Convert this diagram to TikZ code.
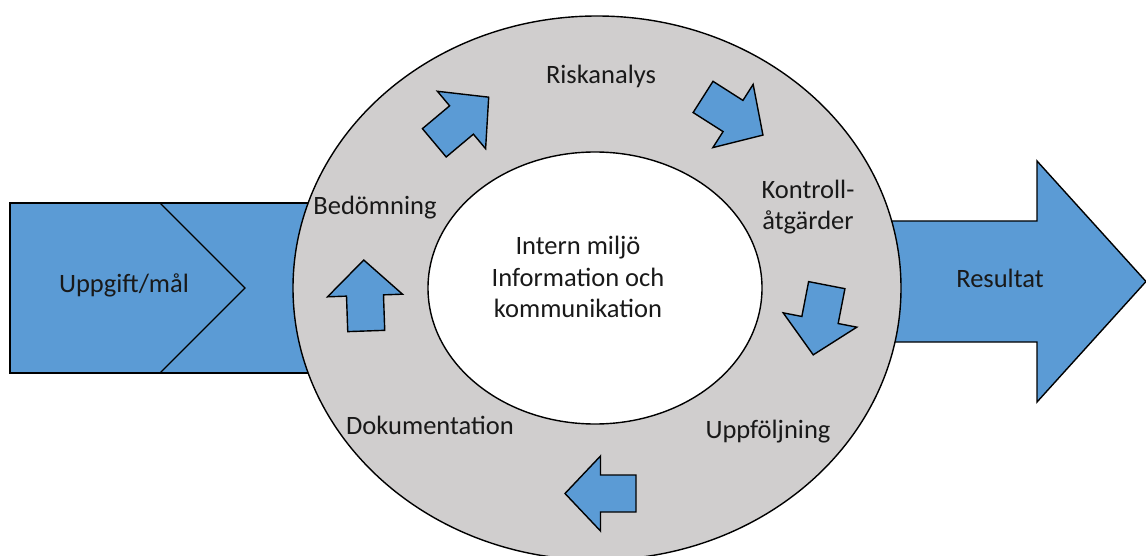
\documentclass[tikz,border=0pt]{standalone}
\usepackage{fontspec}
\setmainfont{Carlito}
\usepackage{tikz}
\usetikzlibrary{shapes.geometric}

\definecolor{boxblue}{RGB}{91,155,213}
\definecolor{ringgray}{RGB}{208,206,206}

\begin{document}
\begin{tikzpicture}[x=1pt,y=-1pt,
    blockfill/.style={fill=boxblue,draw=black,line width=1.4pt,line join=miter},
    ringshape/.style={ellipse,draw=black,line width=1.4pt,inner sep=0pt},
    steptext/.style={font=\fontsize{26.5}{31.5}\selectfont,text=black!90,align=center,inner sep=0pt},
    pics/cyclearrow/.style={code={
      \draw[blockfill] (-35.5,-18.5)--(0,-18.5)--(0,-37.5)--(35.5,0)--(0,37.5)--(0,18.5)--(-35.5,18.5)--cycle;}}]
  \clip (0,0) rectangle (1146,556);
  % in- and outflow
  \draw[blockfill] (10,203) rectangle (340,373);
  \draw[line width=1.4pt] (160,203)--(245,288)--(160,373);
  \draw[blockfill] (860,221)--(1037,221)--(1037,161)--(1146,281.5)--(1037,402)--(1037,342)--(860,342)--cycle;
  \node[steptext] (goal) at (124,285) {Uppgift/mål};
  \node[steptext] (result) at (1000,278) {Resultat};
  % ring
  \node[ringshape,fill=ringgray,minimum width=608pt,minimum height=544pt] (outer) at (597,288) {};
  \node[ringshape,fill=white,minimum width=334pt,minimum height=272pt] (inner) at (595,288) {};
  \node[steptext] (centre) at (578,277) {Intern miljö\\Information och\\kommunikation};
  \node[steptext] (risk) at (601,76) {Riskanalys};
  \node[steptext] (control) at (808,207) {Kontroll-\\åtgärder};
  \node[steptext] (followup) at (768,432) {Uppföljning};
  \node[steptext] (docs) at (430,425) {Dokumentation};
  \node[steptext] (assess) at (375,208) {Bedömning};
  \pic[rotate=40] at (461.5,120) {cyclearrow};
  \pic[rotate=-32.5] at (733,116) {cyclearrow};
  \pic[rotate=-101] at (820,320) {cyclearrow};
  \pic[rotate=180] at (600.5,493.5) {cyclearrow};
  \pic[rotate=92] at (365,295.5) {cyclearrow};
\end{tikzpicture}
\end{document}
